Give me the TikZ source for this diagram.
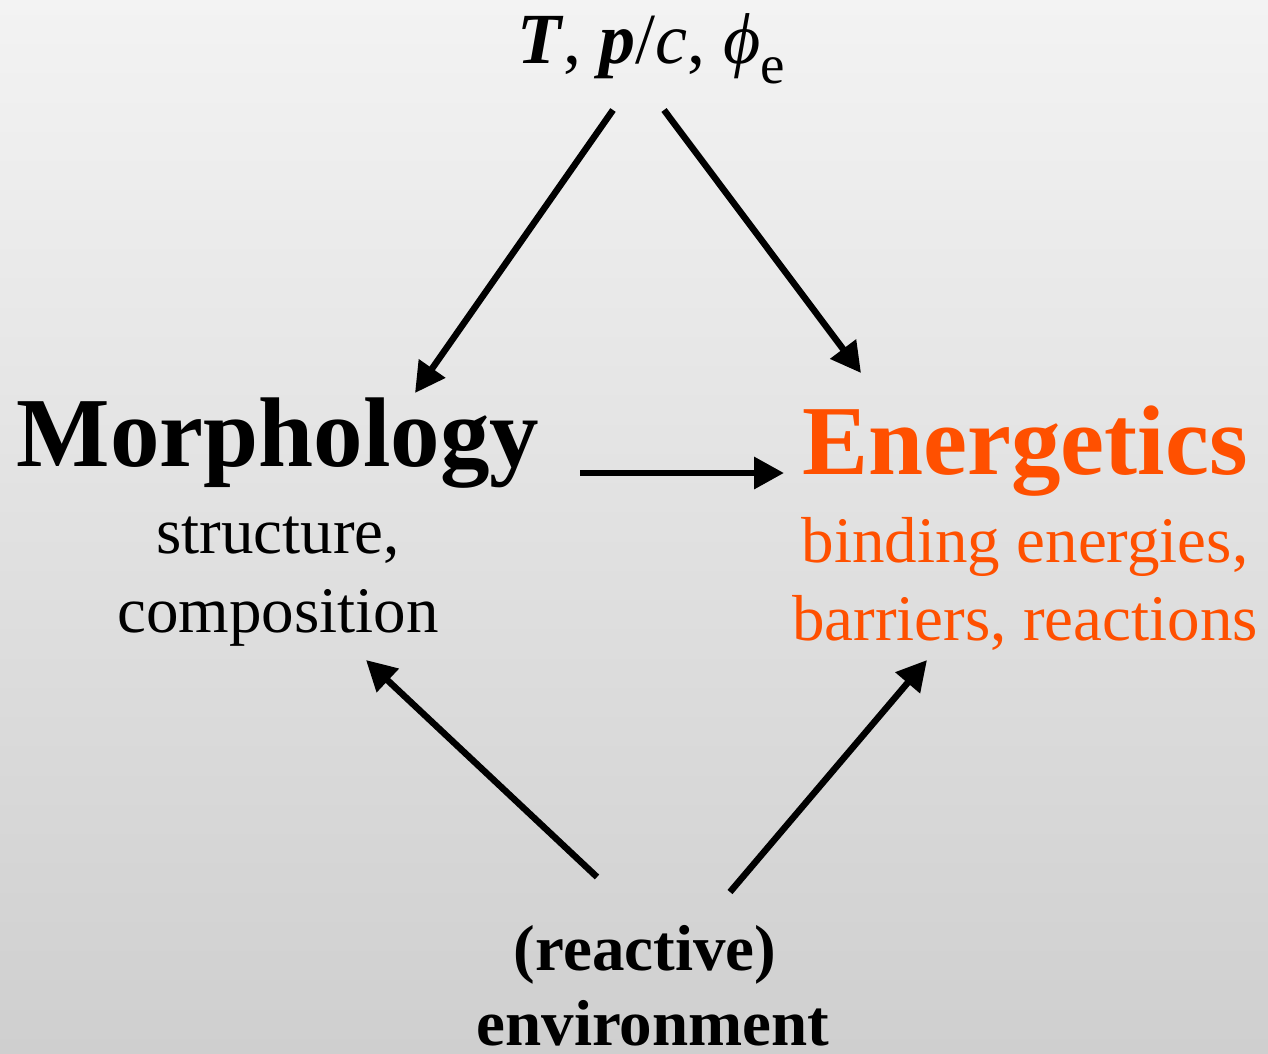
\documentclass[tikz,border=0pt]{standalone}
\usepackage{fontspec}
\setmainfont{Liberation Serif}
\usetikzlibrary{arrows.meta}
\definecolor{bgtop}{RGB}{243,243,243}
\definecolor{bgbot}{RGB}{207,207,207}
\definecolor{eorange}{RGB}{255,80,0}
\tikzset{
  conn/.style={line width=6.5pt, -{Triangle[length=30pt,width=31pt]}, shorten >=0pt},
  bigtitle/.style={anchor=base, inner sep=0pt, font=\fontsize{99}{99}\selectfont\bfseries},
  subtext/.style={anchor=base, inner sep=0pt, font=\fontsize{65}{65}\selectfont},
}
\begin{document}
\begin{tikzpicture}[x=1pt,y=-1pt]
\useasboundingbox (0,0) rectangle (1268,1053);
\shade[top color=bgtop, bottom color=bgbot] (0,0) rectangle (1268,1053);

% texts
\node[anchor=base, inner sep=0pt, font=\fontsize{72}{72}\selectfont] (params) at (651,63)
  {\textbf{\textit{T}}, \textbf{\textit{p}}/\textit{c}, \textit{ϕ}\raisebox{-20pt}{\fontsize{55}{55}\selectfont e}};
\node[bigtitle] (morph) at (278,466) {Morphology};
\node[subtext] (struct) at (278,553) {structure,};
\node[subtext] (comp) at (278,632) {composition};
\node[bigtitle, text=eorange] (energ) at (1025,474) {Energetics};
\node[subtext, text=eorange] (bind) at (1025,562) {binding energies,};
\node[subtext, text=eorange] (barr) at (1025,640) {barriers, reactions};
\node[subtext, font=\fontsize{65}{65}\selectfont\bfseries] (react) at (645,970) {(reactive)};
\node[subtext, font=\fontsize{65}{65}\selectfont\bfseries] (env) at (653,1045) {environment};

% connector end points
\coordinate (pL) at (613,110);
\coordinate (mT) at (415,393);
\coordinate (pR) at (664,110);
\coordinate (eT) at (861,373);
\coordinate (mR) at (580,473);
\coordinate (eL) at (784,473);
\coordinate (rL) at (597,877);
\coordinate (cB) at (366,660);
\coordinate (rR) at (730,892);
\coordinate (bB) at (927,660);

\draw[conn] (pL) -- (mT);
\draw[conn] (pR) -- (eT);
\draw[conn] (mR) -- (eL);
\draw[conn] (rL) -- (cB);
\draw[conn] (rR) -- (bB);
\end{tikzpicture}
\end{document}
